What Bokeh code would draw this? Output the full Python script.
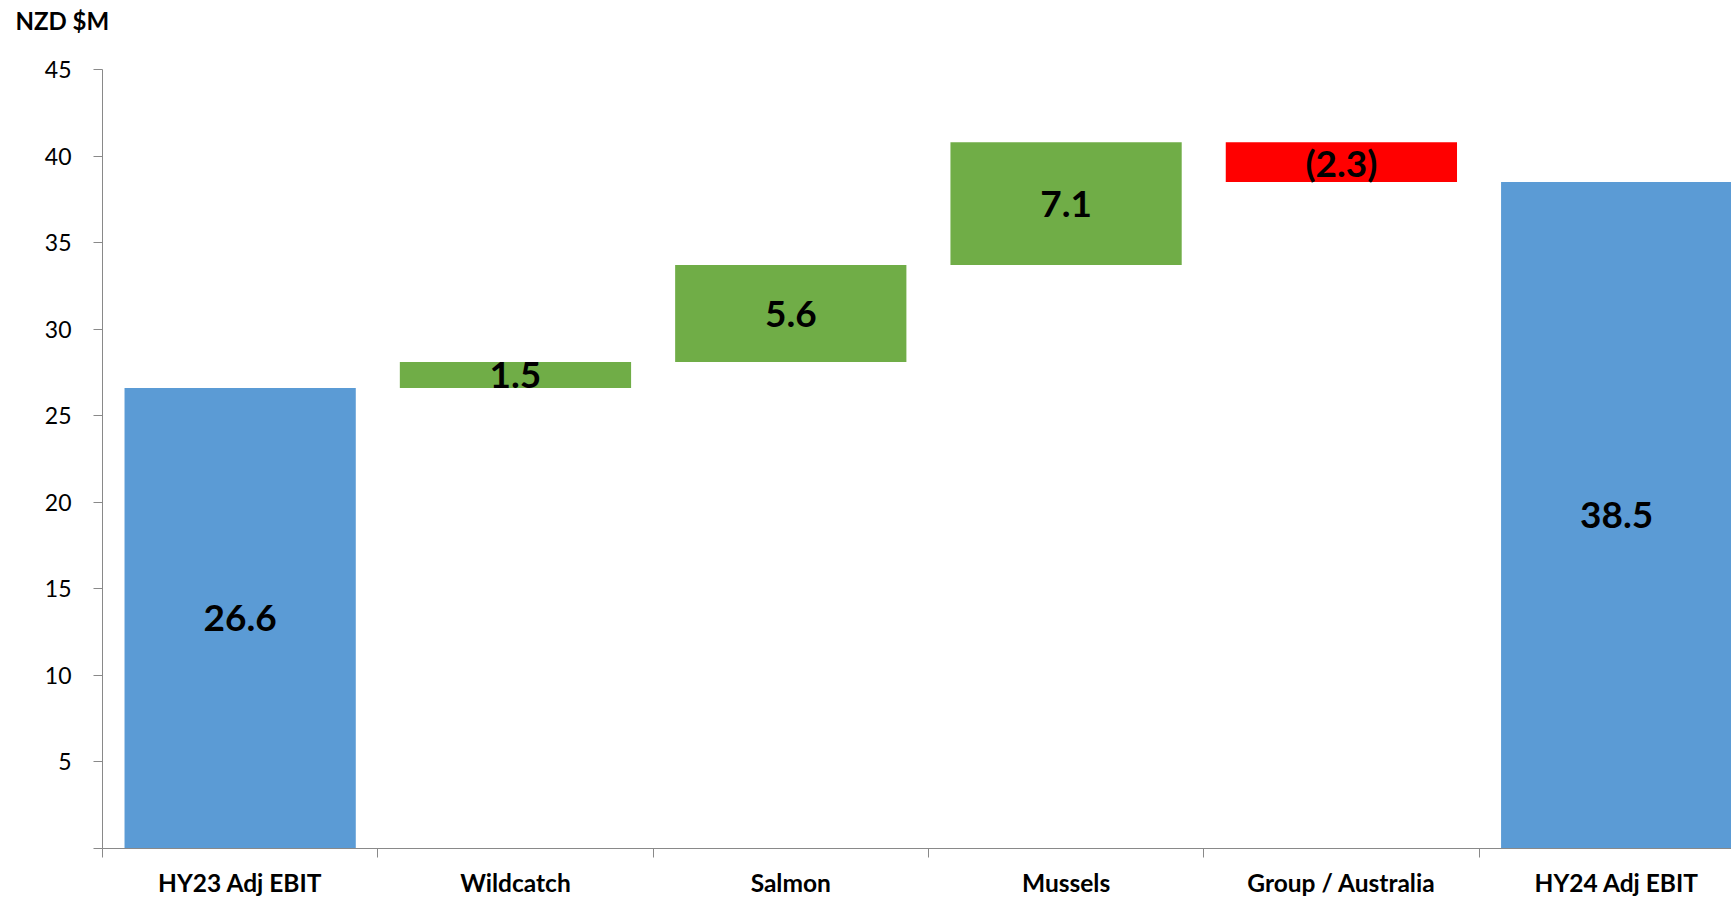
from bokeh.plotting import figure
from bokeh.models import Range1d, FixedTicker, ColumnDataSource, Title
from bokeh.core.properties import value
from bokeh.embed import file_html
from bokeh.resources import INLINE

categories = ["HY23 Adj EBIT", "Wildcatch", "Salmon", "Mussels", "Group / Australia", "HY24 Adj EBIT"]
changes = [26.6, 1.5, 5.6, 7.1, -2.3, 38.5]
kinds = ["total", "delta", "delta", "delta", "delta", "total"]
y_ticks = [0, 5, 10, 15, 20, 25, 30, 35, 40, 45]

FONT = "Lato"
colors_map = {"total": "#5B9BD5", "up": "#70AD47", "down": "#FF0000"}

xs, bottoms, tops, colors, labels, mids = [], [], [], [], [], []
running = 0.0
for i, (c, v, k) in enumerate(zip(categories, changes, kinds)):
    if k == "total":
        b, t = 0.0, v
        running = v
        col = colors_map["total"]
        lab = f"{v:.1f}"
    else:
        b, t = running, running + v
        running = t
        col = colors_map["up"] if v >= 0 else colors_map["down"]
        lab = f"{v:.1f}" if v >= 0 else f"({abs(v):.1f})"
    xs.append(i)
    bottoms.append(min(b, t))
    tops.append(max(b, t))
    colors.append(col)
    labels.append(lab)
    mids.append((b + t) / 2)

src = ColumnDataSource(dict(x=xs, bottom=bottoms, top=tops, color=colors, label=labels, mid=mids))

p = figure(width=1731, height=899, output_backend="svg", toolbar_location=None,
           x_range=Range1d(-0.5, 5.417), y_range=Range1d(0, 45),
           min_border_left=102, min_border_right=0, min_border_top=69, min_border_bottom=45)
p.outline_line_color = None
p.grid.grid_line_color = None
p.background_fill_color = "white"

p.vbar(x="x", bottom="bottom", top="top", width=0.84, fill_color="color", line_color=None, source=src)
p.text(x="x", y="mid", text="label", source=src, text_align="center", text_baseline="middle",
       text_font=value(FONT), text_font_style="bold", text_font_size="37px", text_color="black")

# x axis
p.xaxis.ticker = FixedTicker(ticks=list(range(len(categories))),
                             minor_ticks=[i - 0.5 for i in range(len(categories) + 1)])
p.xaxis.major_label_overrides = {i: c for i, c in enumerate(categories)}
p.xaxis.major_tick_out = 0
p.xaxis.major_tick_in = 0
p.xaxis.minor_tick_out = 9
p.xaxis.minor_tick_in = 0
p.xaxis.minor_tick_line_color = "#898989"
p.xaxis.axis_line_color = "#898989"
p.xaxis.major_label_text_font = FONT
p.xaxis.major_label_text_font_style = "bold"
p.xaxis.major_label_text_font_size = "24.5px"
p.xaxis.major_label_text_color = "black"
p.xaxis.major_label_standoff = 10

# y axis
p.yaxis.ticker = FixedTicker(ticks=y_ticks)
p.yaxis.major_label_overrides = {0: ""}
p.yaxis.major_tick_out = 9
p.yaxis.major_tick_in = 0
p.yaxis.minor_tick_line_color = None
p.yaxis.major_tick_line_color = "#898989"
p.yaxis.axis_line_color = "#898989"
p.yaxis.major_label_text_font = FONT
p.yaxis.major_label_text_font_size = "23px"
p.yaxis.major_label_text_color = "black"
p.yaxis.major_label_standoff = 22

t = Title(text="NZD $M\n", text_font=FONT, text_font_style="bold", text_font_size="24px",
          text_color="black", align="left", offset=-87, standoff=8, vertical_align="top")
p.add_layout(t, "above")

open("out.html", "w").write(file_html(p, INLINE))
